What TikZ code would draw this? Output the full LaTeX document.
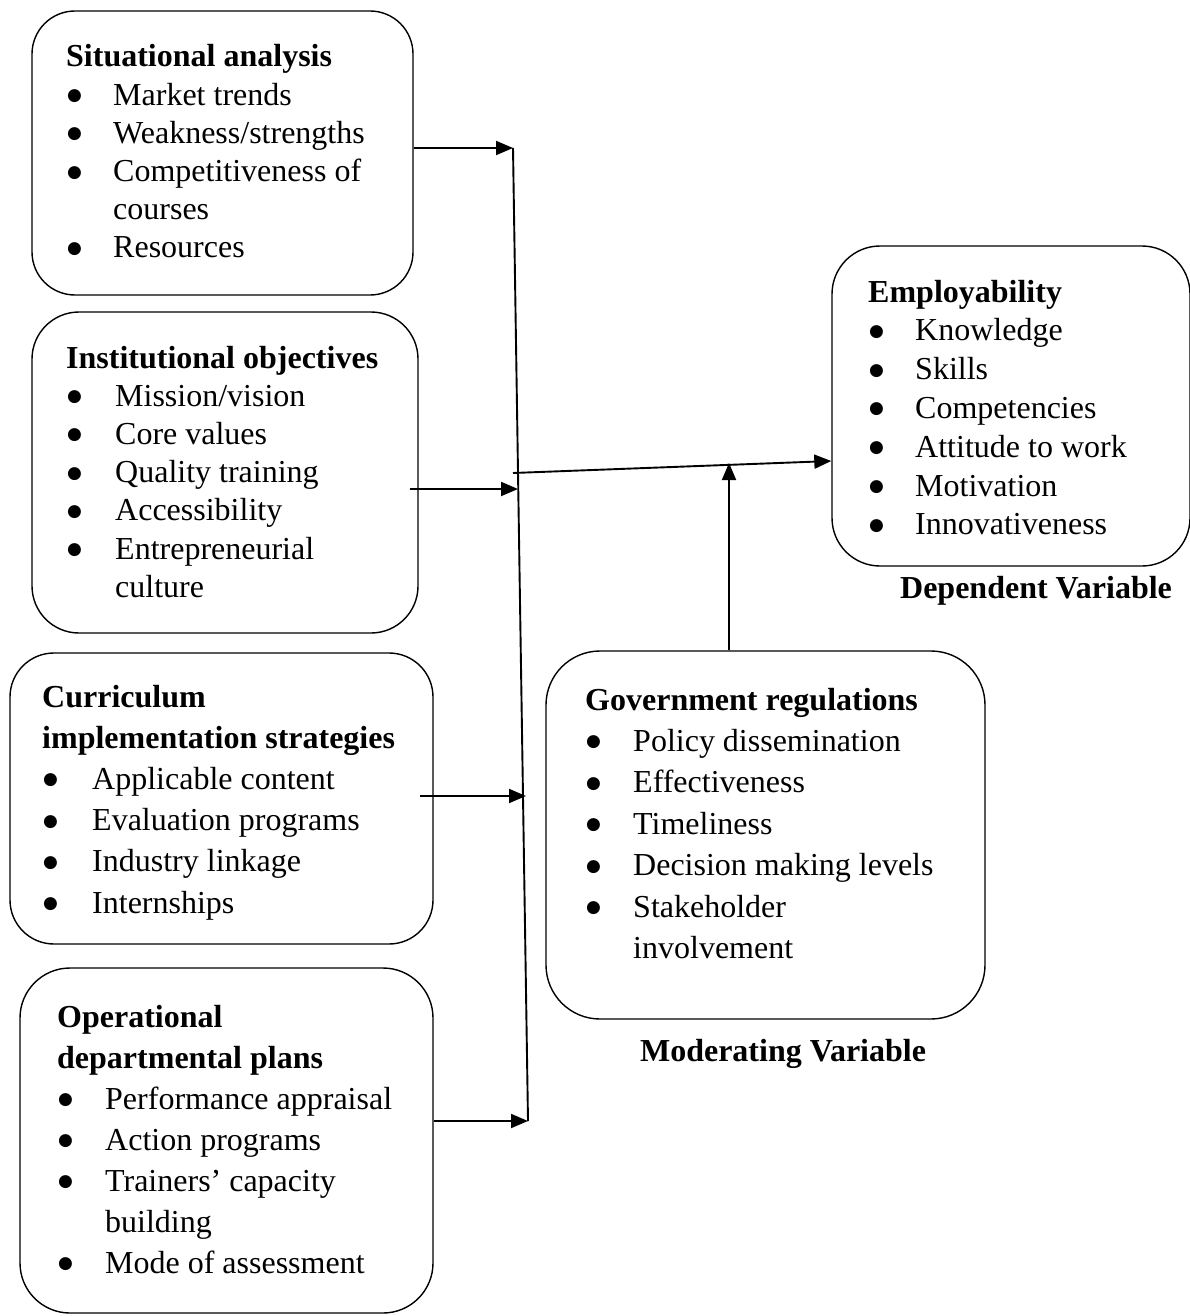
\documentclass[tikz,border=0pt]{standalone}
\usepackage{fontspec}
\setmainfont{Liberation Serif}
\newfontfamily\dvfont{DejaVu Sans}
\usetikzlibrary{arrows.meta,calc}
\tikzset{
  box/.style={draw, line width=1.4pt, rounded corners=#1, inner sep=0pt},
  content/.style={anchor=base west, inner sep=0pt, align=left},
  lab/.style={anchor=base, inner sep=0pt, font=\fontsize{32}{38}\selectfont\bfseries},
  link/.style={line width=1.9pt},
  arr/.style={line width=1.9pt, -{Triangle[length=17pt,width=14pt]}}
}
\newcommand{\bt}{\hspace{1pt}\raisebox{4.5pt}{\dvfont\fontsize{17}{17}\selectfont ●}}
\begin{document}
\begin{tikzpicture}[x=1pt,y=-1pt]
\useasboundingbox (0,0) rectangle (1189,1316);
% boxes
\node[box=43pt, minimum width=381pt, minimum height=284pt] (b1) at (222.5,153) {};
\node[box=47pt, minimum width=386pt, minimum height=321pt] (b2) at (225,472.5) {};
\node[box=44pt, minimum width=423pt, minimum height=291pt] (b3) at (221.5,798.5) {};
\node[box=50pt, minimum width=413pt, minimum height=345pt] (b4) at (226.5,1140.5) {};
\node[box=48pt, minimum width=358pt, minimum height=320pt] (b5) at (1011,406) {};
\node[box=54pt, minimum width=439pt, minimum height=368pt] (b6) at (765.5,835) {};
% contents
\node[content, font=\fontsize{32}{38.2}\selectfont] (c1) at (66,67) {\begin{tabular}[t]{@{}p{47pt}@{}l@{}}
\multicolumn{2}{@{}l@{}}{\textbf{Situational analysis}}\\
\bt & Market trends\\
\bt & Weakness/strengths\\
\bt & Competitiveness of\\
 & courses\\
\bt & Resources
\end{tabular}};
\node[content, font=\fontsize{32}{38.2}\selectfont] (c2) at (66,368) {\begin{tabular}[t]{@{}p{49pt}@{}l@{}}
\multicolumn{2}{@{}l@{}}{\textbf{Institutional objectives}}\\
\bt & Mission/vision\\
\bt & Core values\\
\bt & Quality training\\
\bt & Accessibility\\
\bt & Entrepreneurial\\
 & culture
\end{tabular}};
\node[content, font=\fontsize{32}{41.2}\selectfont] (c3) at (42,707) {\begin{tabular}[t]{@{}p{50pt}@{}l@{}}
\multicolumn{2}{@{}l@{}}{\textbf{Curriculum}}\\
\multicolumn{2}{@{}l@{}}{\textbf{implementation strategies}}\\
\bt & Applicable content\\
\bt & Evaluation programs\\
\bt & Industry linkage\\
\bt & Internships
\end{tabular}};
\node[content, font=\fontsize{32}{41}\selectfont] (c4) at (57,1027) {\begin{tabular}[t]{@{}p{48pt}@{}l@{}}
\multicolumn{2}{@{}l@{}}{\textbf{Operational}}\\
\multicolumn{2}{@{}l@{}}{\textbf{departmental plans}}\\
\bt & Performance appraisal\\
\bt & Action programs\\
\bt & Trainers’ capacity\\
 & building\\
\bt & Mode of assessment
\end{tabular}};
\node[content, font=\fontsize{32}{38.8}\selectfont] (c5) at (868,302) {\begin{tabular}[t]{@{}p{47pt}@{}l@{}}
\multicolumn{2}{@{}l@{}}{\textbf{Employability}}\\
\bt & Knowledge\\
\bt & Skills\\
\bt & Competencies\\
\bt & Attitude to work\\
\bt & Motivation\\
\bt & Innovativeness
\end{tabular}};
\node[content, font=\fontsize{32}{41.4}\selectfont] (c6) at (585,710) {\begin{tabular}[t]{@{}p{48pt}@{}l@{}}
\multicolumn{2}{@{}l@{}}{\textbf{Government regulations}}\\
\bt & Policy dissemination\\
\bt & Effectiveness\\
\bt & Timeliness\\
\bt & Decision making levels\\
\bt & Stakeholder\\
 & involvement
\end{tabular}};
% labels
\node[lab] (dv) at (1036,598) {Dependent Variable};
\node[lab] (mv) at (783,1061) {Moderating Variable};
% connectors
\coordinate (vt) at (513,148);
\coordinate (vb) at (528,1121);
\coordinate (v2) at (518,489);
\coordinate (v3) at (526,796);
\coordinate (vm) at (513,473);
\coordinate (ein) at (832,461);
\coordinate (mj) at (729,463);
\draw[link] (vt) -- (vb);
\draw[arr] (b1.east |- vt) -- (vt);
\draw[arr] ([xshift=-9pt]b2.east |- v2) -- (v2);
\draw[arr] ([xshift=-14pt]b3.east |- v3) -- (v3);
\draw[arr] (b4.east |- vb) -- (vb);
\draw[arr] (vm) -- (b5.west |- ein);
\draw[arr] (b6.north -| mj) -- (mj);
\end{tikzpicture}
\end{document}
